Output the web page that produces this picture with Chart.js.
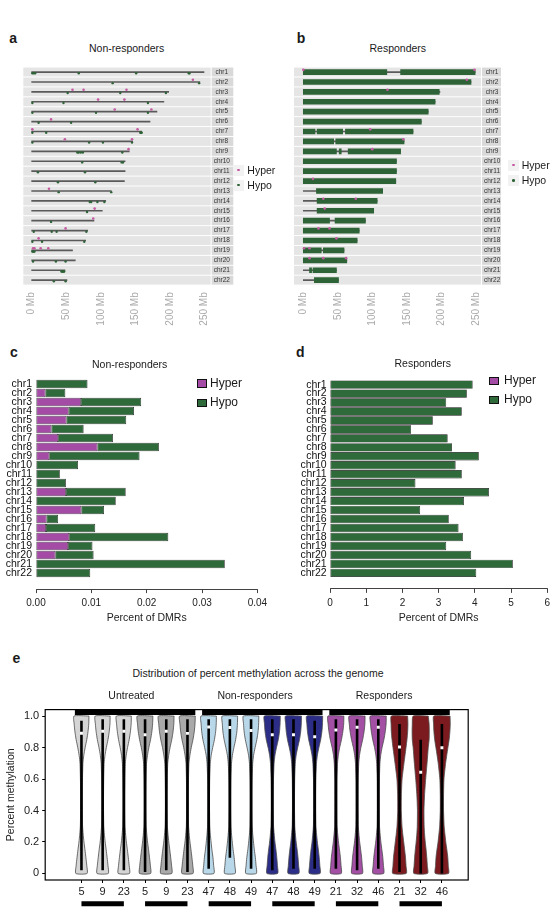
<!DOCTYPE html>
<html>
<head>
<meta charset="utf-8">
<title>DMR distribution</title>
<script src="https://cdn.jsdelivr.net/npm/chart.js@4.4.1/dist/chart.umd.min.js"></script>
<style>
  html, body { margin: 0; padding: 0; background: #fff; }
  body { position: relative; width: 554px; height: 908px; overflow: hidden;
         font-family: 'Liberation Sans', Arial, Helvetica, sans-serif; color: #1a1a1a; }
  canvas { position: absolute; }
  .txt { position: absolute; white-space: nowrap; line-height: 1; }
  .key { position: absolute; box-sizing: border-box; }
</style>
</head>
<body>
<canvas id="chartA" width="280" height="280" style="left:0;top:55px"></canvas>
<canvas id="chartB" width="274" height="280" style="left:280px;top:55px"></canvas>
<canvas id="chartC" width="280" height="268" style="left:0;top:360px"></canvas>
<canvas id="chartD" width="274" height="268" style="left:280px;top:360px"></canvas>
<canvas id="chartE" width="554" height="208" style="left:0;top:700px"></canvas>

<script>
// ---- data ----
const chromosomes = ['chr1','chr2','chr3','chr4','chr5','chr6','chr7','chr8','chr9','chr10','chr11',
  'chr12','chr13','chr14','chr15','chr16','chr17','chr18','chr19','chr20','chr21','chr22'];
const chromLengthMb = [249,243,198,191,181,171,159,146,141,135,135,134,115,107,102,90,81,78,59,63,48,51];
const mbTicks = [0, 50, 100, 150, 200, 250];

// panel a: single DMRs [chromosome number, position in Mb]
const nonRespHyperSites = [[2,233],[3,59],[3,75],[3,137],[4,96],[4,134],[5,120],[5,173],[6,28],[7,1],
  [7,153],[8,48],[8,145],[9,140],[13,25],[15,91],[16,89],[17,49],[18,10],[19,2],[19,4],[19,13],[19,24]];
const nonRespHypoSites = [[1,1],[1,3],[1,5],[1,68],[1,151],[1,227],[1,228],[2,117],[2,242],[3,52],
  [3,128],[3,194],[4,1],[4,46],[4,168],[5,1],[5,93],[5,168],[6,10],[6,57],[7,1],[7,21],[7,157],[7,158],
  [7,159],[8,1],[8,83],[8,103],[8,145],[9,66],[9,68],[9,71],[9,74],[9,131],[10,73],[10,130],[10,132],
  [11,9],[11,77],[12,38],[12,92],[13,39],[13,115],[14,84],[14,86],[14,95],[14,105],[15,80],[16,28],
  [17,3],[17,29],[17,36],[17,79],[18,1],[18,15],[18,76],[19,1],[19,2],[19,3],[19,4],[20,2],[20,35],
  [20,49],[21,43],[21,44],[21,45],[21,46],[21,47],[22,32],[22,49]];

// panel b: hypo DMRs are so dense they form runs [chromosome, start Mb, end Mb]
const respHyperSites = [[1,0],[1,248],[2,237],[3,122],[7,97],[8,145],[9,100],[12,14],[14,29],[14,76],
  [15,31],[17,22],[17,38],[18,48],[19,1],[19,9],[20,9],[20,29],[20,62]];
const respHypoRuns = [[1,0,121],[1,141,249],[2,0,243],[3,0,197],[4,0,191],[5,0,181],[6,0,171],
  [7,0,17],[7,20,57],[7,61,159],[8,0,44],[8,47,146],[9,0,48],[9,52,55],[9,65,141],[10,0,135],
  [11,0,135],[12,0,134],[13,19,115],[14,20,107],[15,20,102],[16,0,38],[16,46,90],[17,0,81],
  [18,0,78],[19,0,26],[19,29,59],[20,0,63],[21,9,12],[21,14,48],[22,16,51]];

// panels c, d: percent of DMRs per chromosome
const nonRespHyper = [0,0.0017,0.0081,0.0059,0.0055,0.0028,0.0040,0.0111,0.0024,0,0,0,0.0054,0,
  0.0082,0.0019,0.0018,0.0060,0.0058,0.0035,0,0];
const nonRespHypo = [0.0093,0.0036,0.0109,0.0118,0.0108,0.0058,0.0099,0.0111,0.0163,0.0076,0.0043,
  0.0054,0.0108,0.0144,0.0041,0.0021,0.0089,0.0179,0.0044,0.0069,0.0341,0.0098];
const respHyper = [0,0,0,0,0,0,0,0,0,0,0,0,0,0,0,0,0,0,0,0,0,0];
const respHypo = [3.94,3.78,3.21,3.64,2.84,2.24,3.25,3.37,4.11,3.47,3.64,2.36,4.39,3.70,2.49,3.28,
  3.55,3.67,3.21,3.90,5.05,4.04];
const nonRespTicks = [0, 0.01, 0.02, 0.03, 0.04];
const respTicks = [0, 1, 2, 3, 4, 5, 6];

// panel e: methylation distributions
const sampleIds = ['5','9','23','5','9','23','47','48','49','47','48','49','21','32','46','21','32','46'];
const groupNames = ['Untreated', 'Non-responders', 'Responders'];
const groupSpans = [[1, 6], [7, 12], [13, 18]];
const pairSpans = [[1, 3], [4, 6], [7, 9], [10, 12], [13, 15], [16, 18]];
const methylTicks = [0, 0.2, 0.4, 0.6, 0.8, 1.0];
const methylLevels = [1, 0.95, 0.9, 0.85, 0.8, 0.75, 0.7, 0.6, 0.5, 0.4, 0.3, 0.25, 0.2, 0.15, 0.1, 0.05, 0];
// relative density at each level
const densLightGray = [.87,.85,.76,.62,.43,.27,.17,.12,.10,.10,.13,.20,.29,.41,.52,.62,.66];
const densDarkGray  = [.91,.88,.79,.64,.44,.28,.17,.12,.10,.10,.13,.20,.29,.41,.52,.62,.65];
const densLightBlue = [.90,.88,.81,.67,.47,.29,.19,.12,.10,.10,.13,.19,.28,.38,.50,.58,.62];
const densNavy      = [.93,.91,.84,.70,.49,.31,.21,.14,.12,.12,.15,.22,.31,.43,.53,.60,.63];
const densPurple    = [.93,.91,.81,.65,.44,.28,.19,.13,.12,.12,.14,.21,.30,.42,.53,.60,.63];
const densRed21     = [.95,.98,.95,.87,.76,.64,.52,.30,.22,.21,.29,.38,.49,.60,.70,.76,.79];
const densRed32     = [.88,.98,1.0,.98,.88,.81,.74,.58,.45,.38,.40,.45,.53,.63,.71,.77,.80];
const densRed46     = [.95,.97,.93,.84,.70,.56,.43,.24,.19,.19,.26,.35,.45,.58,.69,.74,.77];
const sampleDensity = [densLightGray,densLightGray,densLightGray,densDarkGray,densDarkGray,densDarkGray,
  densLightBlue,densLightBlue,densLightBlue,densNavy,densNavy,densNavy,densPurple,densPurple,densPurple,
  densRed21,densRed32,densRed46];
const medians = [0.891,0.904,0.904,0.881,0.904,0.890,0.931,0.927,0.908,0.881,0.881,0.869,0.912,0.929,
  0.929,0.803,0.643,0.799];
const whiskerLow = [0.02,0.02,0.02,0.01,0.02,0.01,0.03,0.10,0.03,0.02,0.03,0.03,0.03,0.02,0.03,0.01,0,0];
const whiskerHigh = [0.97,0.98,0.98,0.98,0.98,0.98,0.98,0.98,0.98,0.98,0.98,0.97,0.98,0.98,0.98,0.95,0.85,0.95];

// ---- styles ----
const FONT = "'Liberation Sans', Arial, Helvetica, sans-serif";
Chart.defaults.font.family = FONT;
Chart.defaults.color = '#1a1a1a';
const HYPER_BAR = '#a44ca5';
const HYPO_BAR = '#2f6a3b';
const HYPER_DOT = '#c65aa2';
const HYPO_DOT = '#2e6337';
const violinColors = ['#d5d5d5','#d5d5d5','#d5d5d5','#a9a9a9','#a9a9a9','#a9a9a9',
  '#b8d8e9','#b8d8e9','#b8d8e9','#2b2d87','#2b2d87','#2b2d87','#a24fa4','#a24fa4','#a24fa4',
  '#7c1b1f','#7c1b1f','#7c1b1f'];
const VIOLIN_HALF = 0.405;

const fixedTicks = values => scale => { scale.ticks = values.map(v => ({ value: v })); };
const baseOptions = { responsive: false, animation: false, events: [],
  plugins: { legend: { display: false }, tooltip: { enabled: false } } };

// gray facet rows behind the karyograms
const rowBands = {
  id: 'rowBands',
  beforeDraw(chart) {
    const { ctx, chartArea, scales: { y } } = chart;
    ctx.save();
    for (let i = 1; i <= chromosomes.length; i++) {
      const top = y.getPixelForValue(i - 0.45);
      const bottom = y.getPixelForValue(i + 0.45);
      ctx.fillStyle = '#e5e5e5';
      ctx.fillRect(chartArea.left, top, chartArea.right - chartArea.left, bottom - top);
      ctx.fillStyle = '#d9d9d9';
      ctx.fillRect(y.left + 1, top, y.right - y.left - 1, bottom - top);
    }
    ctx.restore();
  }
};

function karyogram(id, cfg) {
  const datasets = [{
    type: 'bar', indexAxis: 'y', stack: 'row', order: 4, barThickness: 1, backgroundColor: '#5a5a5a',
    data: chromLengthMb.map((len, i) => ({ x: [0, len], y: i + 1 }))
  }];
  if (cfg.hypoRuns) datasets.push({
    type: 'bar', indexAxis: 'y', stack: 'row', order: 3, barThickness: 5, backgroundColor: HYPO_DOT,
    data: cfg.hypoRuns.map(([c, s, e]) => ({ x: [s, e], y: c }))
  });
  if (cfg.hypoSites) datasets.push({
    type: 'scatter', order: 2, pointRadius: 1.2, borderWidth: 0, backgroundColor: HYPO_DOT,
    data: cfg.hypoSites.map(([c, mb]) => ({ x: mb, y: c + 0.12 }))
  });
  datasets.push({
    type: 'scatter', order: 1, pointRadius: 1.3, borderWidth: 0, backgroundColor: HYPER_DOT,
    data: cfg.hyperSites.map(([c, mb]) => ({ x: mb, y: c - 0.22 }))
  });
  new Chart(document.getElementById(id), {
    type: 'scatter',
    data: { datasets },
    options: Object.assign({}, baseOptions, {
      layout: { padding: cfg.padding },
      scales: {
        x: { type: 'linear', stacked: false, min: cfg.xMin, max: cfg.xMax, afterBuildTicks: fixedTicks(mbTicks),
             afterFit: s => { s.height = 44.7; },
             grid: { display: false, drawTicks: false }, border: { display: false },
             ticks: { minRotation: 90, maxRotation: 90, padding: 2, color: '#ababab',
                      font: { size: 10 }, callback: v => v + ' Mb' } },
        y: { type: 'linear', position: 'right', reverse: true, min: 0.5, max: 22.5,
             afterBuildTicks: fixedTicks(chromosomes.map((_, i) => i + 1)),
             afterFit: s => { s.width = cfg.stripWidth; },
             grid: { display: false, drawTicks: false }, border: { display: false },
             ticks: { crossAlign: 'center', padding: 3, color: '#333', font: { size: 6.5 },
                      autoSkip: false, callback: (v, i) => chromosomes[i] } }
      }
    }),
    plugins: [rowBands]
  });
}

karyogram('chartA', { hyperSites: nonRespHyperSites, hypoSites: nonRespHypoSites,
  padding: { left: 23.3, top: 5, right: 46.7, bottom: 0 }, stripWidth: 22.6, xMin: -12.1, xMax: 258.7 });
karyogram('chartB', { hyperSites: respHyperSites, hypoRuns: respHypoRuns,
  padding: { left: 14, top: 5, right: 53, bottom: 0 }, stripWidth: 20, xMin: -13.5, xMax: 257.5 });

function dmrBars(id, cfg) {
  const hyper = cfg.hyper.map((v, i) => v > 0 ? { x: [0, v], y: i + 1 } : null).filter(d => d);
  const hypo = cfg.hypo.map((v, i) => ({ x: [cfg.hyper[i], cfg.hyper[i] + v], y: i + 1 }));
  const barStyle = { stack: 'row', borderColor: '#111', borderWidth: 0.7, borderSkipped: false,
    barPercentage: 0.94, categoryPercentage: 1 };
  new Chart(document.getElementById(id), {
    type: 'bar',
    data: { datasets: [
      Object.assign({ label: 'Hyper', data: hyper, backgroundColor: HYPER_BAR }, barStyle),
      Object.assign({ label: 'Hypo', data: hypo, backgroundColor: HYPO_BAR }, barStyle)
    ] },
    options: Object.assign({}, baseOptions, {
      indexAxis: 'y',
      layout: { padding: cfg.padding },
      scales: {
        x: { type: 'linear', stacked: false, min: cfg.ticks[0], max: cfg.ticks[cfg.ticks.length - 1],
             afterBuildTicks: fixedTicks(cfg.ticks), afterFit: s => { s.height = cfg.xHeight; },
             grid: { display: true, drawOnChartArea: false, tickLength: 4, color: '#111', lineWidth: 0.8 },
             border: { display: true, color: '#111', width: 0.8 },
             ticks: { padding: 4, font: { size: 10 }, color: '#222', maxRotation: 0,
                      callback: cfg.tickLabel },
             title: { display: true, text: 'Percent of DMRs', font: { size: 10.5 }, color: '#222' } },
        y: { type: 'linear', reverse: true, min: 0.5, max: 23.25,
             afterBuildTicks: fixedTicks(chromosomes.map((_, i) => i + 1)),
             afterFit: s => { s.width = cfg.yWidth; },
             grid: { display: false, drawTicks: false }, border: { display: false },
             ticks: { padding: cfg.labelPad, font: { size: 10.5 }, color: '#111', autoSkip: false,
                      callback: (v, i) => chromosomes[i] } }
      }
    })
  });
}

dmrBars('chartC', { hyper: nonRespHyper, hypo: nonRespHypo, ticks: nonRespTicks,
  tickLabel: v => v.toFixed(2), padding: { left: 0, top: 14.6, right: 22.6, bottom: 0 },
  xHeight: 38.9, yWidth: 36, labelPad: 4 });
dmrBars('chartD', { hyper: respHyper, hypo: respHypo, ticks: respTicks,
  tickLabel: v => String(v), padding: { left: 0, top: 15.3, right: 3.3, bottom: 0 },
  xHeight: 39.1, yWidth: 50, labelPad: 3.3 });

// panel e
const frame = {
  id: 'frame',
  afterDraw(chart) {
    const { ctx, chartArea: a } = chart;
    ctx.save();
    ctx.strokeStyle = '#000';
    ctx.lineWidth = 1.2;
    ctx.strokeRect(a.left, a.top, a.right - a.left, a.bottom - a.top);
    ctx.restore();
  }
};

const violinSets = sampleIds.map((_, i) => {
  const dens = sampleDensity[i];
  const right = methylLevels.map((lv, k) => ({ x: i + 1 + dens[k] * VIOLIN_HALF, y: lv }));
  const left = methylLevels.map((lv, k) => ({ x: i + 1 - dens[k] * VIOLIN_HALF, y: lv })).reverse();
  return { data: right.concat(left, [right[0]]), showLine: true, fill: 'shape', tension: 0.2,
    backgroundColor: violinColors[i], borderColor: '#4a4a4a', borderWidth: 0.8, pointRadius: 0, order: 5 };
});
const whiskerSets = sampleIds.map((_, i) => ({
  data: [{ x: i + 1, y: whiskerLow[i] }, { x: i + 1, y: whiskerHigh[i] }], showLine: true,
  borderColor: '#000', borderWidth: 2.6, pointRadius: 0, order: 4 }));
const medianSet = { data: medians.map((m, i) => ({ x: i + 1, y: m })), pointStyle: 'rect',
  pointRadius: 2.1, backgroundColor: '#fff', borderWidth: 0, order: 1 };
const groupBarSets = groupSpans.map(([a, b]) => ({
  data: [{ x: a - 0.31, y: 1.024 }, { x: b + 0.37, y: 1.024 }], showLine: true, clip: false,
  borderColor: '#000', borderWidth: 5.3, borderCapStyle: 'butt', pointRadius: 0, order: 2 }));
const pairBarSets = pairSpans.map(([a, b]) => ({
  data: [{ x: a, y: -0.192 }, { x: b, y: -0.192 }], showLine: true, clip: false,
  borderColor: '#000', borderWidth: 5, borderCapStyle: 'butt', pointRadius: 0, order: 2 }));

new Chart(document.getElementById('chartE'), {
  type: 'scatter',
  data: { datasets: violinSets.concat(whiskerSets, [medianSet], groupBarSets, pairBarSets) },
  options: Object.assign({}, baseOptions, {
    layout: { padding: { left: 0, top: 5.7, right: 85.8, bottom: 0 } },
    scales: {
      x: { type: 'linear', min: -0.71, max: 19.24,
           afterBuildTicks: fixedTicks(sampleIds.map((_, i) => i + 1)),
           afterFit: s => { s.height = 28; },
           grid: { display: true, drawOnChartArea: false, tickLength: 3, color: '#000' },
           border: { display: false },
           ticks: { padding: 2, font: { size: 11 }, color: '#222', autoSkip: false, maxRotation: 0,
                    callback: (v, i) => sampleIds[i] } },
      y: { type: 'linear', min: -0.0416, max: 1.041, afterBuildTicks: fixedTicks(methylTicks),
           afterFit: s => { s.width = 45.2; },
           grid: { display: true, drawOnChartArea: false, tickLength: 3, color: '#000' },
           border: { display: false },
           ticks: { padding: 3, font: { size: 11 }, color: '#222',
                    callback: v => v === 0 ? '0' : v.toFixed(1) },
           title: { display: true, text: 'Percent methylation', font: { size: 10.5 }, color: '#222',
                    padding: { top: 5, bottom: 0 } } }
    }
  }),
  plugins: [frame]
});

// ---- text and legends ----
function addText(text, x, baseline, size, opts = {}) {
  const el = document.createElement('div');
  el.className = 'txt';
  el.textContent = text;
  el.style.fontSize = size + 'px';
  el.style.top = (baseline - 0.85 * size) + 'px';
  el.style.left = x + 'px';
  if (opts.bold) el.style.fontWeight = 'bold';
  if (opts.center) el.style.transform = 'translateX(-50%)';
  document.body.appendChild(el);
}
function addKey(x, y, w, h, style) {
  const el = document.createElement('div');
  el.className = 'key';
  Object.assign(el.style, { left: x + 'px', top: y + 'px', width: w + 'px', height: h + 'px' }, style);
  document.body.appendChild(el);
}
function dotKey(cx, cy, color) {
  addKey(cx - 5.5, cy - 5.5, 11, 11, { background: '#f2f2f2' });
  addKey(cx - 1.3, cy - 1.3, 2.6, 2.6, { background: color, borderRadius: '50%' });
}

addText('a', 9.3, 42.7, 14, { bold: true });
addText('b', 296.7, 43, 14, { bold: true });
addText('Non-responders', 126.7, 51.5, 10.5, { center: true });
addText('Responders', 397.8, 51.5, 10.5, { center: true });
dotKey(238.3, 170, HYPER_DOT);
dotKey(238.3, 185, HYPO_DOT);
addText('Hyper', 247.3, 173.7, 10.5);
addText('Hypo', 247.3, 188.7, 10.5);
dotKey(513.3, 165, HYPER_DOT);
dotKey(513.3, 180.7, HYPO_DOT);
addText('Hyper', 521.7, 168.7, 10.5);
addText('Hypo', 521.7, 184.4, 10.5);

addText('c', 10, 356.7, 14, { bold: true });
addText('d', 296, 357, 14, { bold: true });
addText('Non-responders', 129.7, 367.5, 10.5, { center: true });
addText('Responders', 422.8, 367, 10.5, { center: true });
const sq = c => ({ background: c, border: '0.7px solid #111' });
addKey(197, 379, 10, 8.5, sq(HYPER_BAR));
addKey(197, 398.5, 10, 8.5, sq(HYPO_BAR));
addText('Hyper', 210, 387.3, 12);
addText('Hypo', 210, 406.5, 12);
addKey(489.3, 376.7, 10, 8.5, sq(HYPER_BAR));
addKey(489.3, 395.5, 10, 8.5, sq(HYPO_BAR));
addText('Hyper', 504, 384.3, 12);
addText('Hypo', 504, 403.3, 12);

addText('e', 12.4, 662.7, 14, { bold: true });
addText('Distribution of percent methylation across the genome', 258, 676.6, 10.5, { center: true });
const groupCenters = [131.4, 255.1, 384.1];
groupNames.forEach((g, i) => addText(g, groupCenters[i], 698.6, 10.5, { center: true }));
</script>
</body>
</html>
